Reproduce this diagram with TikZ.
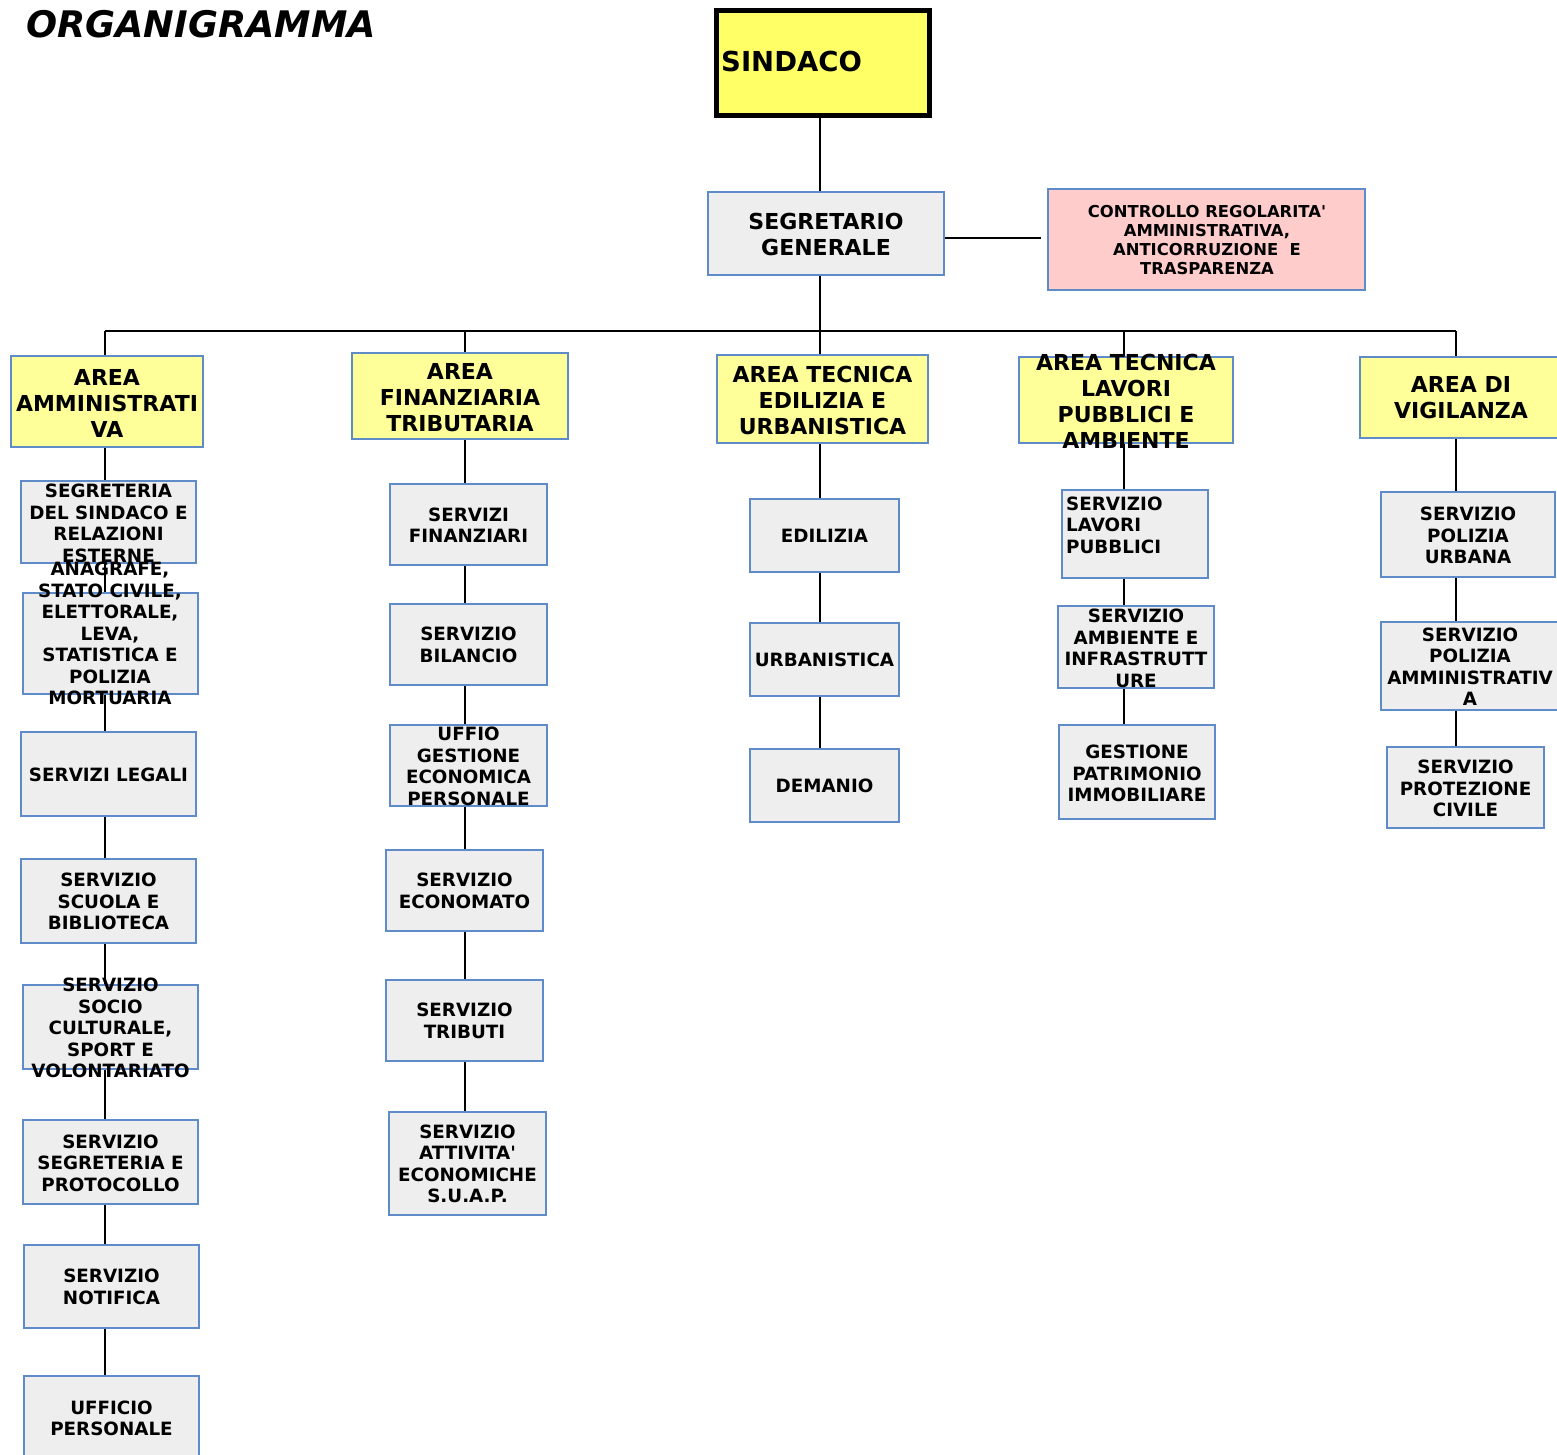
\documentclass[tikz,border=0pt]{standalone}
\usepackage{fontspec}
\setmainfont{DejaVu Sans}
\newfontfamily\apof{DejaVu Sans}
\usetikzlibrary{fit,backgrounds}
\newcommand\apo{{\apof '}}
\definecolor{bord}{HTML}{5F8CC8}
\definecolor{boxgray}{HTML}{EEEEEE}
\definecolor{areayel}{HTML}{FFFF99}
\definecolor{sinyel}{HTML}{FFFF66}
\definecolor{pinkbox}{HTML}{FFCCCC}
\tikzset{
  conn/.style={draw=black, line width=1.3pt},
  gbox/.style={draw=bord, fill=boxgray, line width=1.5pt, inner sep=0pt},
  abox/.style={draw=bord, fill=areayel, line width=1.5pt, inner sep=0pt},
  pbox/.style={draw=bord, fill=pinkbox, line width=1.5pt, inner sep=0pt},
  sbox/.style={draw=black, fill=sinyel, line width=5pt, inner sep=0pt},
  txt/.style={inner sep=0pt, align=center, font=\bfseries\fontsize{18.3}{21.5}\selectfont},
  atxt/.style={inner sep=0pt, align=center, font=\bfseries\fontsize{22}{26}\selectfont},
}
\begin{document}
\begin{tikzpicture}[x=1pt,y=-1pt]
\useasboundingbox (0,0) rectangle (1557,1455);
\clip (0,0) rectangle (1557,1455);

% title
\node[inner sep=0pt, anchor=west, font=\bfseries\itshape\fontsize{36.6}{40}\selectfont] (title) at (26,24.5) {ORGANIGRAMMA};

% top
\node[sbox, fit={(716.5,10.5)(929.5,115.5)}] (SIN) {};
\node[inner sep=0pt, anchor=west, font=\bfseries\fontsize{27.5}{32}\selectfont] (SINt) at (721,61) {SINDACO};

\node[gbox, fit={(708,192)(944,275)}] (SEG) {};
\node[atxt] (SEGt) at (826,234.5) {SEGRETARIO\\GENERALE};

\node[pbox, fit={(1048,189)(1365,290)}] (CTRL) {};
\node[inner sep=0pt, align=center, font=\bfseries\fontsize{16.4}{19}\selectfont] (CTRLt) at (1207,240.5) {CONTROLLO REGOLARITA\apo\\AMMINISTRATIVA,\\ANTICORRUZIONE\ \ E\\TRASPARENZA};

% bus coordinates
\coordinate (bus1) at (105,331);
\coordinate (bus2) at (465,331);
\coordinate (bus3) at (820,331);
\coordinate (bus4) at (1124,331);
\coordinate (bus5) at (1456,331);
\coordinate (ctrlend) at (1041,238);

% areas
\node[abox, fit={(11,356)(203,447)}] (A1) {};
\node[atxt] at (107,403) (A1t) {AREA\\AMMINISTRATI\\VA};
\node[abox, fit={(352,353)(568,439)}] (A2) {};
\node[atxt] at (460,397.5) (A2t) {AREA\\FINANZIARIA\\TRIBUTARIA};
\node[abox, fit={(717,355)(928,443)}] (A3) {};
\node[atxt] at (822.5,400) (A3t) {AREA TECNICA\\EDILIZIA E\\URBANISTICA};
\node[abox, fit={(1019,357)(1233,443)}] (A4) {};
\node[atxt] at (1126,401) (A4t) {AREA TECNICA\\LAVORI\\PUBBLICI E\\AMBIENTE};
\node[abox, fit={(1360,357)(1565,438)}] (A5) {};
\node[atxt] at (1461,398) (A5t) {AREA DI\\VIGILANZA};

% column 1
\node[gbox, fit={(21,481)(196,563)}] (B1) {};
\node[txt] at (108.5,523.5) (B1t) {SEGRETERIA\\DEL SINDACO E\\RELAZIONI\\ESTERNE};
\node[gbox, fit={(23,593)(198,694)}] (B2) {};
\node[txt] at (110,633.5) (B2t) {ANAGRAFE,\\STATO CIVILE,\\ELETTORALE,\\LEVA,\\STATISTICA E\\POLIZIA\\MORTUARIA};
\node[gbox, fit={(21,732)(196,816)}] (B3) {};
\node[txt] at (108.5,775) (B3t) {SERVIZI LEGALI};
\node[gbox, fit={(21,859)(196,943)}] (B4) {};
\node[txt] at (108.5,901.5) (B4t) {SERVIZIO\\SCUOLA E\\BIBLIOTECA};
\node[gbox, fit={(23,985)(198,1069)}] (B5) {};
\node[txt] at (110.5,1028) (B5t) {SERVIZIO\\SOCIO\\CULTURALE,\\SPORT E\\VOLONTARIATO};
\node[gbox, fit={(23,1120)(198,1204)}] (B6) {};
\node[txt] at (110.5,1163) (B6t) {SERVIZIO\\SEGRETERIA E\\PROTOCOLLO};
\node[gbox, fit={(24,1245)(199,1328)}] (B7) {};
\node[txt] at (111.5,1287) (B7t) {SERVIZIO\\NOTIFICA};
\node[gbox, fit={(24,1376)(199,1461)}] (B8) {};
\node[txt] at (111.5,1418.5) (B8t) {UFFICIO\\PERSONALE};

% column 2
\node[gbox, fit={(390,484)(547,565)}] (C1) {};
\node[txt] at (468.5,525) (C1t) {SERVIZI\\FINANZIARI};
\node[gbox, fit={(390,604)(547,685)}] (C2) {};
\node[txt] at (468.5,645) (C2t) {SERVIZIO\\BILANCIO};
\node[gbox, fit={(390,725)(547,806)}] (C3) {};
\node[txt] at (468.5,766.5) (C3t) {UFFIO\\GESTIONE\\ECONOMICA\\PERSONALE};
\node[gbox, fit={(386,850)(543,931)}] (C4) {};
\node[txt] at (464.5,891) (C4t) {SERVIZIO\\ECONOMATO};
\node[gbox, fit={(386,980)(543,1061)}] (C5) {};
\node[txt] at (464.5,1021) (C5t) {SERVIZIO\\TRIBUTI};
\node[gbox, fit={(389,1112)(546,1215)}] (C6) {};
\node[txt] at (467.5,1164) (C6t) {SERVIZIO\\ATTIVITA\apo\\ECONOMICHE\\S.U.A.P.};

% column 3
\node[gbox, fit={(750,499)(899,572)}] (D1) {};
\node[txt] at (824.5,536) (D1t) {EDILIZIA};
\node[gbox, fit={(750,623)(899,696)}] (D2) {};
\node[txt] at (824.5,660) (D2t) {URBANISTICA};
\node[gbox, fit={(750,749)(899,822)}] (D3) {};
\node[txt] at (824.5,786) (D3t) {DEMANIO};

% column 4
\node[gbox, fit={(1062,490)(1208,578)}] (E1) {};
\node[txt, align=left, anchor=north west] at (1066,496.5) (E1t) {SERVIZIO\\LAVORI\\PUBBLICI};
\node[gbox, fit={(1058,606)(1214,688)}] (E2) {};
\node[txt] at (1136,648.5) (E2t) {SERVIZIO\\AMBIENTE E\\INFRASTRUTT\\URE};
\node[gbox, fit={(1059,725)(1215,819)}] (E3) {};
\node[txt] at (1137,773.5) (E3t) {GESTIONE\\PATRIMONIO\\IMMOBILIARE};

% column 5
\node[gbox, fit={(1381,492)(1555,577)}] (F1) {};
\node[txt] at (1468,535.5) (F1t) {SERVIZIO\\POLIZIA\\URBANA};
\node[gbox, fit={(1381,622)(1562,710)}] (F2) {};
\node[txt] at (1470,666.5) (F2t) {SERVIZIO\\POLIZIA\\AMMINISTRATIV\\A};
\node[gbox, fit={(1387,747)(1544,828)}] (F3) {};
\node[txt] at (1465.5,788.5) (F3t) {SERVIZIO\\PROTEZIONE\\CIVILE};

% connectors
\begin{scope}[on background layer]
  \draw[conn] (SIN.south -| bus3) -- (SEG.north -| bus3);
  \draw[conn] (SEG.south -| bus3) -- (bus3);
  \draw[conn, line width=2pt] (SEG.east |- ctrlend) -- (ctrlend);
  \draw[conn] (bus1) -- (bus5);
  \draw[conn] (bus1) -- (A1.north -| bus1);
  \draw[conn] (bus2) -- (A2.north -| bus2);
  \draw[conn] (bus3) -- (A3.north -| bus3);
  \draw[conn] (bus4) -- (A4.north -| bus4);
  \draw[conn] (bus5) -- (A5.north -| bus5);
  \foreach \a/\b in {A1/B1,B1/B2,B2/B3,B3/B4,B4/B5,B5/B6,B6/B7,B7/B8}
    \draw[conn] (\a.south -| bus1) -- (\b.north -| bus1);
  \foreach \a/\b in {A2/C1,C1/C2,C2/C3,C3/C4,C4/C5,C5/C6}
    \draw[conn] (\a.south -| bus2) -- (\b.north -| bus2);
  \foreach \a/\b in {A3/D1,D1/D2,D2/D3}
    \draw[conn] (\a.south -| bus3) -- (\b.north -| bus3);
  \foreach \a/\b in {A4/E1,E1/E2,E2/E3}
    \draw[conn] (\a.south -| bus4) -- (\b.north -| bus4);
  \foreach \a/\b in {A5/F1,F1/F2,F2/F3}
    \draw[conn] (\a.south -| bus5) -- (\b.north -| bus5);
\end{scope}
\end{tikzpicture}
\end{document}
